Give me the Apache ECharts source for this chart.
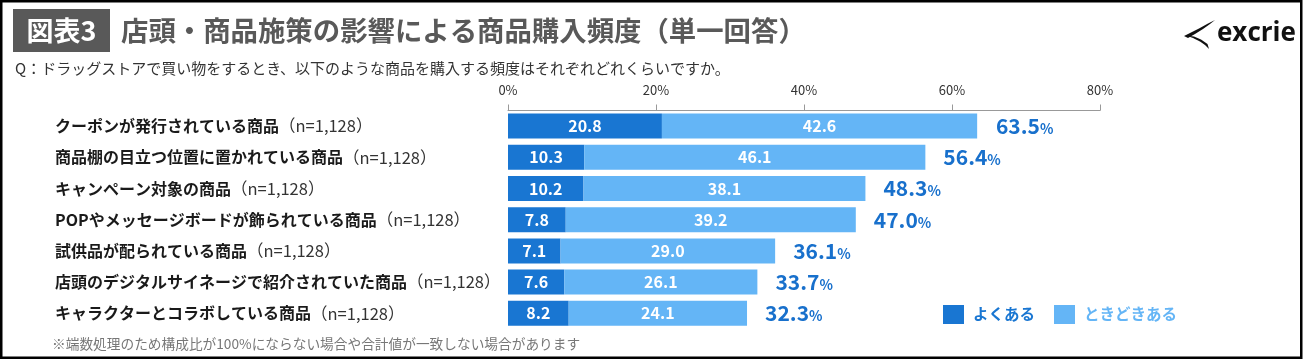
<!DOCTYPE html>
<html>
<head>
<meta charset="utf-8">
<script src="https://cdn.jsdelivr.net/npm/echarts@6/dist/echarts.min.js"></script>
<style>
html,body{margin:0;padding:0;background:#fff;}
#main{width:1303px;height:360px;}
</style>
</head>
<body>
<div id="main"></div>
<script>
const categories = [
  'クーポンが発行されている商品',
  '商品棚の目立つ位置に置かれている商品',
  'キャンペーン対象の商品',
  'POPやメッセージボードが飾られている商品',
  '試供品が配られている商品',
  '店頭のデジタルサイネージで紹介されていた商品',
  'キャラクターとコラボしている商品'
];
const sampleLabel = '（n=1,128）';
const often = [20.8, 10.3, 10.2, 7.8, 7.1, 7.6, 8.2];
const sometimes = [42.6, 46.1, 38.1, 39.2, 29.0, 26.1, 24.1];
const totals = [63.5, 56.4, 48.3, 47.0, 36.1, 33.7, 32.3];
const xTicks = [0, 20, 40, 60, 80];
const seriesNames = ['よくある', 'ときどきある'];

const FONT = '"Noto Sans CJK JP", "Noto Sans", sans-serif';
const DARK = '#1976D2';
const LIGHT = '#64B5F6';
const TOTAL = '#1870cc';

const chart = echarts.init(document.getElementById('main'), null, {renderer: 'canvas'});
chart.setOption({
  animation: false,
  backgroundColor: '#ffffff',
  textStyle: {fontFamily: FONT},
  grid: {left: 508, right: 203, top: 110.5, height: 218.4, containLabel: false},
  xAxis: {
    type: 'value', position: 'top', min: xTicks[0], max: xTicks[xTicks.length - 1], interval: 20,
    axisLine: {show: true, lineStyle: {color: '#999', width: 1}},
    axisTick: {show: true, length: 6, lineStyle: {color: '#999'}},
    splitLine: {show: false},
    axisLabel: {formatter: v => v + '%', color: '#333', fontSize: 13, margin: 14, fontFamily: FONT}
  },
  yAxis: {
    type: 'category', inverse: true, data: categories,
    axisLine: {show: false}, axisTick: {show: false},
    axisLabel: {
      align: 'left', margin: 453,
      formatter: v => '{b|' + v + '}{n|' + sampleLabel + '}',
      rich: {
        b: {fontSize: 16, fontWeight: 'bold', color: '#1a1a1a', fontFamily: FONT},
        n: {fontSize: 16.5, color: '#333', fontFamily: FONT}
      }
    }
  },
  legend: {
    left: 943, top: 305, padding: 0, itemWidth: 21, itemHeight: 19, itemGap: 19, icon: 'rect',
    selectedMode: false,
    textStyle: {fontSize: 15.5, fontWeight: 'bold', fontFamily: FONT, padding: [0, 0, 0, 4]},
    data: [
      {name: seriesNames[0], textStyle: {color: DARK}},
      {name: seriesNames[1], textStyle: {color: LIGHT}}
    ]
  },
  series: [
    {
      name: seriesNames[0], type: 'bar', stack: 'a', data: often, barWidth: 25,
      itemStyle: {color: DARK},
      label: {show: true, position: 'inside', color: '#fff', fontSize: 16, fontWeight: 'bold',
        fontFamily: FONT, formatter: p => p.value.toFixed(1)}
    },
    {
      name: seriesNames[1], type: 'bar', stack: 'a', data: sometimes, barWidth: 25,
      itemStyle: {color: LIGHT},
      label: {show: true, position: 'inside', color: '#fff', fontSize: 16, fontWeight: 'bold',
        fontFamily: FONT, formatter: p => p.value.toFixed(1)}
    },
    {
      name: 'total', type: 'scatter', data: totals, symbolSize: 0.01, silent: true,
      itemStyle: {color: TOTAL, opacity: 1},
      label: {show: true, position: 'right', distance: 18, color: TOTAL,
        formatter: p => '{v|' + p.value.toFixed(1) + '}{p|%}',
        rich: {
          v: {fontSize: 21, fontWeight: 'bold', color: TOTAL, fontFamily: FONT},
          p: {fontSize: 14, fontWeight: 'bold', color: TOTAL, fontFamily: FONT, padding: [5, 0, 0, 0]}
        }
      }
    }
  ],
  graphic: [
    {type: 'rect', shape: {x: 1.25, y: 1.25, width: 1300, height: 356.5},
      style: {fill: 'none', stroke: '#000', lineWidth: 2.5}, silent: true},
    {type: 'rect', shape: {x: 13, y: 9, width: 97, height: 43}, style: {fill: '#595959'}},
    {type: 'text', x: 61.5, y: 31, style: {text: '図表3', fill: '#fff', font: 'bold 27px ' + FONT,
      textAlign: 'center', textVerticalAlign: 'middle'}},
    {type: 'text', x: 121, y: 31, style: {text: '店頭・商品施策の影響による商品購入頻度（単一回答）',
      fill: '#595959', font: 'bold 27.4px ' + FONT, textVerticalAlign: 'middle'}},
    {type: 'text', x: 15, y: 68, style: {text: 'Q：ドラッグストアで買い物をするとき、以下のような商品を購入する頻度はそれぞれどれくらいですか。',
      fill: '#333', font: '15px ' + FONT, textVerticalAlign: 'middle'}},
    {type: 'text', x: 52, y: 344, style: {text: '※端数処理のため構成比が100%にならない場合や合計値が一致しない場合があります',
      fill: '#777', font: '13.7px ' + FONT, textVerticalAlign: 'middle'}},
    {type: 'polygon', shape: {points: [[1215,20],[1208,23.5],[1199,28.5],[1191,32.5],[1184,36],[1188,38],[1195,34],[1203,29],[1210,24]]},
      style: {fill: '#111'}},
    {type: 'polygon', shape: {points: [[1186,35.5],[1193,38],[1200,41.5],[1205,45],[1209,49],[1207.5,44],[1201,39.5],[1194,36.5]]},
      style: {fill: '#111'}},
    {type: 'text', x: 1217, y: 34, style: {text: 'excrie', fill: '#111', font: 'bold 26px "Open Sans", sans-serif',
      textVerticalAlign: 'middle'}}
  ]
});
</script>
</body>
</html>
